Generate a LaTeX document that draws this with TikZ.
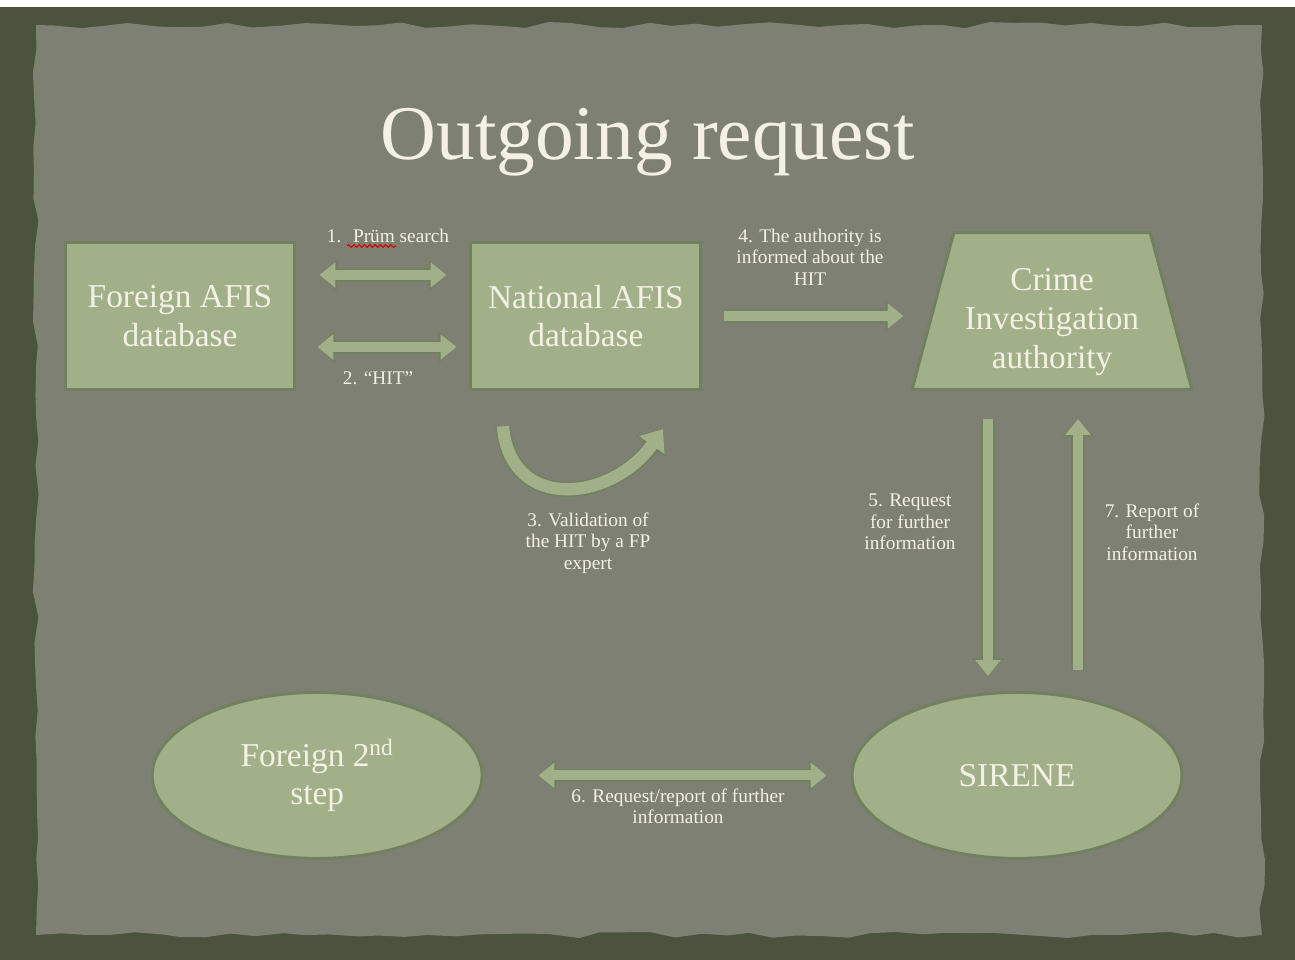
\documentclass[tikz,border=0pt]{standalone}
\usepackage{fontspec}
\setmainfont{Liberation Serif}
\usetikzlibrary{positioning,shapes.geometric,arrows.meta,decorations.pathmorphing}

\definecolor{frame}{HTML}{4B523E}
\definecolor{paper}{HTML}{7D8073}
\definecolor{sage}{HTML}{A2B08A}
\definecolor{sageedge}{HTML}{72805F}
\definecolor{chalk}{HTML}{F3F0E4}

\tikzset{
  box/.style={rectangle, fill=sage, draw=sageedge, line width=1.7pt,
    minimum width=4.6cm, minimum height=2.95cm, align=center,
    text=chalk, font=\fontsize{19}{22}\selectfont},
  oval/.style={ellipse, fill=sage, draw=sageedge, line width=1.7pt,
    minimum width=6.6cm, minimum height=3.32cm, align=center,
    text=chalk, font=\fontsize{19}{22}\selectfont},
  note/.style={align=center, text=chalk, font=\fontsize{11}{12.2}\selectfont},
  flow/.style={draw=sage, line width=5.7pt, -{Triangle[length=9pt,width=14pt]},
    preaction={draw=sageedge, line width=7.8pt, -{Triangle[length=10pt,width=17.5pt]}}},
  flowtwo/.style={draw=sage, line width=5.7pt,
    {Triangle[length=9pt,width=14pt]}-{Triangle[length=9pt,width=14pt]},
    preaction={draw=sageedge, line width=7.8pt,
      {Triangle[length=10pt,width=17.5pt]}-{Triangle[length=10pt,width=17.5pt]}}},
  loopback/.style={draw=sage, line width=7pt, -{Triangle[length=11pt,width=17pt]},
    preaction={draw=sageedge, line width=8.8pt, -{Triangle[length=12pt,width=20pt]}}}
}

\begin{document}
\begin{tikzpicture}[x=0.02cm, y=-0.02cm]
  \useasboundingbox (0,0) rectangle (1295,960);
  % background
  \fill[white] (0,0) rectangle (1295,960);
  \fill[frame] (0,7) rectangle (1295,960);
  \fill[paper, decorate, decoration={random steps, segment length=14pt, amplitude=1.8pt}]
    (36,25) rectangle (1262,935);

  % title
  \node[text=chalk, font=\fontsize{44}{50}\selectfont] (title) at (648,142) {Outgoing request};

  % main nodes
  \node[box] (foreign) at (180,316) {Foreign AFIS\\database};
  \node[box, right=3.46cm of foreign] (national) {National AFIS\\database};
  \node[trapezium, trapezium left angle=78, trapezium right angle=78, trapezium stretches=true,
    fill=sage, draw=sageedge, line width=1.7pt, minimum width=5.6cm, minimum height=3.14cm]
    (crime) at (1052,311) {};
  \node[align=center, text=chalk, font=\fontsize{19}{22}\selectfont]
    (crimetext) at ([yshift=-0.22cm]crime.center) {Crime\\Investigation\\authority};
  \node[oval, below=6cm of crime, xshift=-0.7cm] (sirene) {SIRENE};
  \node[oval, left=7.34cm of sirene] (foreign2) {Foreign 2\textsuperscript{nd}\\step};

  % connectors
  \draw[flowtwo, shorten <=0.46cm, shorten >=0.46cm]
    ([yshift=0.82cm]foreign.east) -- ([yshift=0.82cm]national.west);
  \draw[flowtwo, shorten <=0.42cm, shorten >=0.26cm]
    ([yshift=-0.62cm]foreign.east) -- ([yshift=-0.62cm]national.west);
  \draw[loopback] ([xshift=-1.66cm,yshift=-0.7cm]national.south)
    to[out=-85, in=-125, looseness=1.4] ([xshift=1.54cm,yshift=-0.76cm]national.south);
  \draw[flow, shorten <=0.44cm, shorten >=0.56cm] (national.east) -- (national.east -| crime.west);
  \coordinate (top5) at ([xshift=-1.28cm]crime.south);
  \coordinate (bot5) at (top5 |- sirene.north);
  \coordinate (top7) at ([xshift=0.52cm]crime.south);
  \coordinate (bot7) at (top7 |- sirene.north);
  \draw[flow, shorten <=0.56cm, shorten >=0.3cm] (top5) -- (bot5);
  \draw[flow, shorten <=0.42cm, shorten >=0.56cm] (bot7) -- (top7);
  \draw[flowtwo, shorten <=1.1cm, shorten >=0.48cm] (foreign2.east) -- (sirene.west);

  % labels
  \node[note] (l1) at (388,236) {1.\hspace{0.6em}Prüm search};
  \draw[red!85!black, line width=0.6pt, decorate,
    decoration={snake, amplitude=0.8pt, segment length=3pt}] (347,246) -- (396,246);
  \node[note] (l2) at (378,378) {2. “HIT”};
  \node[note] (l3) at (588,543) {3. Validation of\\the HIT by a FP\\expert};
  \node[note] (l4) at (810,257) {4. The authority is\\informed about the\\HIT};
  \node[note] (l5) at (910,522) {5. Request\\for further\\information};
  \node[note] (l6) at (678,806) {6. Request/report of further\\information};
  \node[note] (l7) at (1152,532) {7. Report of\\further\\information};
\end{tikzpicture}
\end{document}
